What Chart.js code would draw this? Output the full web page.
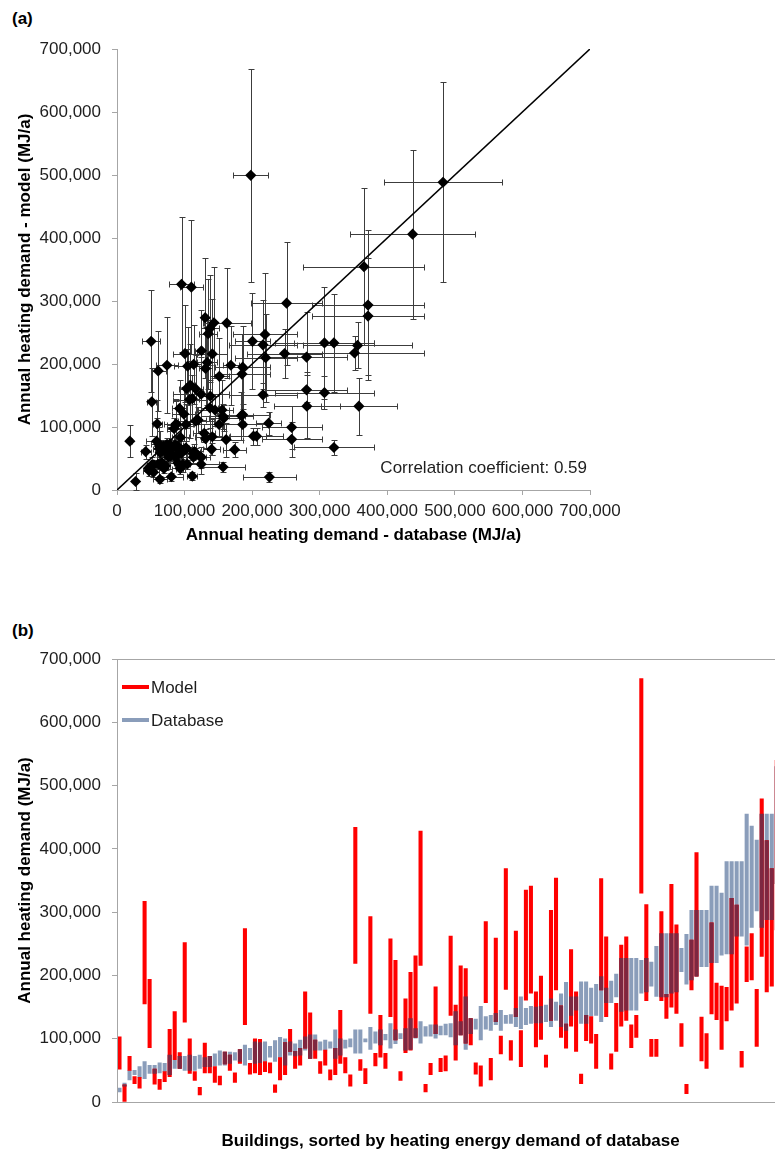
<!DOCTYPE html>
<html>
<head>
<meta charset="utf-8">
<title>Annual heating demand</title>
<script src="https://cdn.jsdelivr.net/npm/chart.js@4.4.0/dist/chart.umd.min.js"></script>
<style>
  body { margin: 0; width: 775px; height: 1155px; overflow: hidden; background: #fff; }
  .panel { position: absolute; left: 0; }
  #panelA { top: 0; width: 775px; height: 560px; }
  #panelB { top: 600px; width: 775px; height: 555px; overflow: hidden; }
  #panelB .inner { width: 900px; height: 555px; position: relative; }
  .tag { position: absolute; left: 12px; font: bold 17px "Liberation Sans", Arial, sans-serif; color: #000; }
</style>
</head>
<body>
<div class="tag" style="top:9px">(a)</div>
<div class="tag" style="top:621px">(b)</div>
<div class="panel" id="panelA"><canvas id="chartA"></canvas></div>
<div class="panel" id="panelB"><div class="inner"><canvas id="chartB"></canvas></div></div>
<script>
// Ranges per building in 1,000 MJ/a, buildings sorted by database demand
const dbLow = [16, 25, 35, 43, 39, 37, 45, 45, 46, 48, 43, 53, 53, 50, 50, 50, 53, 56, 56, 57,
  58, 58, 61, 66, 64, 58, 67, 61, 62, 64, 71, 64, 70, 58, 74, 73, 74, 82, 69, 82,
  82, 82, 85, 69, 74, 85, 87, 77, 77, 95, 83, 93, 90, 98, 85, 92, 100, 82, 83, 101,
  93, 104, 104, 101, 106, 106, 103, 90, 106, 83, 108, 115, 98, 115, 113, 122, 113, 124, 124, 119,
  116, 122, 124, 125, 125, 127, 119, 129, 119, 113, 137, 145, 124, 124, 136, 137, 127, 157, 157, 166,
  143, 145, 145, 145, 172, 174, 183, 167, 166, 166, 172, 174, 206, 186, 193, 199, 214, 214, 220, 220,
  232, 234, 234, 262, 262, 248, 276, 302, 276, 288, 288, 345, 395];
const dbHigh = [22, 30, 50, 50, 56, 64, 58, 58, 62, 61, 74, 66, 72, 72, 74, 72, 74, 70, 72, 76,
  81, 79, 79, 78, 83, 90, 85, 95, 94, 95, 88, 97, 102, 100, 95, 92, 98, 103, 106, 106,
  95, 98, 95, 114, 100, 98, 100, 114, 114, 100, 118, 111, 114, 107, 124, 114, 108, 116, 132, 116,
  127, 119, 122, 122, 120, 123, 124, 143, 127, 166, 132, 131, 151, 135, 137, 140, 145, 137, 138, 148,
  166, 148, 151, 150, 151, 153, 163, 158, 171, 189, 166, 166, 190, 190, 180, 186, 198, 180, 191, 202,
  227, 227, 227, 227, 224, 227, 221, 246, 266, 266, 266, 266, 243, 265, 303, 303, 303, 303, 341, 341,
  330, 380, 380, 380, 380, 455, 436, 414, 455, 455, 455, 530, 570];
const modelLow = [52, 0, 50, 29, 22, 155, 86, 28, 20, 32, 40, 67, 53, 126, 45, 34, 11, 46, 46, 31,
  27, 60, 50, 31, 61, 122, 44, 46, 43, 48, 46, 15, 35, 43, 80, 53, 58, 85, 69, 69,
  45, 58, 35, 43, 61, 46, 25, 219, 50, 29, 140, 57, 71, 53, 135, 98, 34, 78, 82, 102,
  216, 16, 43, 108, 48, 49, 137, 66, 106, 93, 90, 44, 25, 157, 35, 127, 76, 178, 66, 135,
  56, 161, 172, 87, 99, 55, 129, 177, 102, 85, 120, 80, 29, 97, 93, 53, 177, 135, 52, 80,
  120, 129, 86, 102, 330, 160, 72, 72, 160, 132, 150, 140, 88, 13, 177, 199, 65, 53, 139, 130,
  83, 128, 145, 156, 55, 190, 193, 88, 230, 174, 183, 272, 330];
const modelHigh = [103, 27, 72, 40, 39, 317, 194, 52, 36, 48, 115, 143, 78, 252, 100, 48, 23, 93, 72, 56,
  41, 79, 74, 46, 83, 274, 61, 100, 99, 64, 62, 27, 70, 94, 115, 80, 85, 174, 141, 98,
  64, 82, 51, 85, 145, 70, 43, 434, 67, 53, 293, 77, 137, 77, 258, 224, 48, 163, 205, 231,
  428, 28, 61, 182, 69, 73, 262, 153, 215, 211, 132, 62, 57, 285, 69, 259, 104, 369, 97, 270,
  113, 335, 341, 174, 199, 74, 303, 354, 152, 123, 241, 174, 44, 137, 135, 107, 353, 261, 76, 156,
  248, 261, 122, 137, 669, 312, 99, 99, 301, 170, 344, 280, 124, 28, 256, 394, 134, 108, 283, 188,
  183, 181, 322, 311, 80, 245, 266, 178, 479, 413, 369, 540, 647];
const buildings = dbLow.map((v, i) => i + 1);
const diagonal = [0, 700000];
const correlation = '0.59';
const K = 1000;

const red = '#ff0000';
const blueGrey = '#8a9dba';
const overlapColor = '#7d2741';
const axisGrey = '#a6a6a6';
const textColor = '#1e1e1e';

Chart.defaults.font.family = '"Liberation Sans", Arial, sans-serif';
Chart.defaults.font.size = 17;
Chart.defaults.color = textColor;
Chart.defaults.animation = false;

const mid = (lo, hi, i) => (lo[i] + hi[i]) / 2 * K;
const fmt = v => Number(v).toLocaleString('en-US');
const titleFont = { weight: 'bold', size: 17 };

// ---------- (a) model vs database ----------
const errorBars = {
  id: 'errorBars',
  beforeDatasetsDraw(chart) {
    const { ctx, scales: { x, y } } = chart;
    const cap = 3;
    ctx.save();
    ctx.strokeStyle = '#3c3c3c';
    ctx.lineWidth = 1;
    ctx.beginPath();
    dbLow.forEach((v, i) => {
      const px = Math.round(x.getPixelForValue(mid(dbLow, dbHigh, i))) + 0.5;
      const py = Math.round(y.getPixelForValue(mid(modelLow, modelHigh, i))) + 0.5;
      const x0 = Math.round(x.getPixelForValue(dbLow[i] * K)) + 0.5;
      const x1 = Math.round(x.getPixelForValue(dbHigh[i] * K)) + 0.5;
      const y0 = Math.round(y.getPixelForValue(modelLow[i] * K)) + 0.5;
      const y1 = Math.round(y.getPixelForValue(modelHigh[i] * K)) + 0.5;
      ctx.moveTo(x0, py); ctx.lineTo(x1, py);
      ctx.moveTo(x0, py - cap); ctx.lineTo(x0, py + cap);
      ctx.moveTo(x1, py - cap); ctx.lineTo(x1, py + cap);
      ctx.moveTo(px, y0); ctx.lineTo(px, y1);
      ctx.moveTo(px - cap, y0); ctx.lineTo(px + cap, y0);
      ctx.moveTo(px - cap, y1); ctx.lineTo(px + cap, y1);
    });
    ctx.stroke();
    ctx.restore();
  },
  afterDraw(chart) {
    const { ctx, chartArea } = chart;
    ctx.save();
    ctx.font = '17px "Liberation Sans", Arial, sans-serif';
    ctx.fillStyle = textColor;
    ctx.textAlign = 'right';
    ctx.textBaseline = 'middle';
    ctx.fillText('Correlation coefficient: ' + correlation, chartArea.right - 3, chartArea.bottom - 22);
    ctx.restore();
  }
};

new Chart(document.getElementById('chartA'), {
  type: 'scatter',
  data: {
    datasets: [
      {
        label: 'Buildings',
        data: dbLow.map((v, i) => ({ x: mid(dbLow, dbHigh, i), y: mid(modelLow, modelHigh, i) })),
        pointStyle: 'rectRot',
        pointRadius: 5.6,
        backgroundColor: '#000',
        borderColor: '#000',
        borderWidth: 0
      },
      {
        type: 'line',
        label: 'x = y',
        data: diagonal.map(v => ({ x: v, y: v })),
        borderColor: '#000',
        borderWidth: 1.6,
        pointRadius: 0
      }
    ]
  },
  options: {
    responsive: true,
    maintainAspectRatio: false,
    layout: { padding: { left: 0, top: 49, right: 185, bottom: 0 } },
    plugins: { legend: { display: false }, tooltip: { enabled: false } },
    scales: {
      x: {
        type: 'linear', min: 0, max: 700000,
        afterFit: s => { s.height = 70; },
        ticks: { stepSize: 100000, autoSkip: false, maxRotation: 0, padding: 6, callback: fmt },
        grid: { drawOnChartArea: false, tickLength: 5, color: axisGrey },
        border: { color: axisGrey },
        title: { display: true, text: 'Annual heating demand - database (MJ/a)', font: titleFont, color: '#000', padding: { top: 0, bottom: 14 } }
      },
      y: {
        type: 'linear', min: 0, max: 700000,
        afterFit: s => { s.width = 117; },
        ticks: { stepSize: 100000, padding: 11, callback: fmt },
        grid: { drawOnChartArea: false, tickLength: 5, color: axisGrey },
        border: { color: axisGrey },
        title: { display: true, text: 'Annual heating demand - model (MJ/a)', font: titleFont, color: '#000', padding: { top: 15, bottom: 0 } }
      }
    }
  },
  plugins: [errorBars]
});

// ---------- (b) ranges per building ----------
const frameAndLegend = {
  id: 'frameAndLegend',
  afterDraw(chart) {
    const { ctx, chartArea: a } = chart;
    ctx.save();
    ctx.strokeStyle = axisGrey;
    ctx.lineWidth = 1;
    ctx.strokeRect(Math.round(a.left) + 0.5, Math.round(a.top) + 0.5, Math.round(a.right - a.left), Math.round(a.bottom - a.top));
    ctx.font = '17px "Liberation Sans", Arial, sans-serif';
    ctx.textBaseline = 'middle';
    ctx.lineWidth = 4;
    chart.data.datasets.filter(d => d.showInLegend).forEach((d, i) => {
      const y = a.top + 28 + i * 33;
      ctx.strokeStyle = d.backgroundColor;
      ctx.beginPath();
      ctx.moveTo(a.left + 5, y);
      ctx.lineTo(a.left + 32, y);
      ctx.stroke();
      ctx.fillStyle = textColor;
      ctx.fillText(d.label, a.left + 34, y + 1);
    });
    ctx.restore();
  }
};

const overlap = dbLow.map((v, i) => {
  const lo = Math.max(dbLow[i], modelLow[i]);
  const hi = Math.min(dbHigh[i], modelHigh[i]);
  return hi > lo ? [lo * K, hi * K] : null;
});

new Chart(document.getElementById('chartB'), {
  type: 'bar',
  data: {
    labels: buildings,
    datasets: [
      {
        label: 'Overlap',
        data: overlap,
        backgroundColor: overlapColor,
        barThickness: 3.4,
        grouped: false
      },
      {
        label: 'Model',
        showInLegend: true,
        data: modelLow.map((v, i) => [v * K, modelHigh[i] * K]),
        backgroundColor: red,
        barThickness: 3.4,
        grouped: false
      },
      {
        label: 'Database',
        showInLegend: true,
        data: dbLow.map((v, i) => [v * K, dbHigh[i] * K]),
        backgroundColor: blueGrey,
        barThickness: 3.4,
        grouped: false
      }
    ]
  },
  options: {
    responsive: true,
    maintainAspectRatio: false,
    layout: { padding: { left: 0, top: 59, right: 115.7, bottom: 0 } },
    plugins: { legend: { display: false }, tooltip: { enabled: false } },
    scales: {
      x: {
        afterFit: s => { s.height = 53; },
        ticks: { display: false },
        grid: { display: false },
        border: { color: axisGrey },
        title: { display: true, text: 'Buildings, sorted by heating energy demand of database', font: titleFont, color: '#000', padding: { top: 0, bottom: 3 } }
      },
      y: {
        min: 0, max: 700000,
        afterFit: s => { s.width = 117; },
        ticks: { stepSize: 100000, padding: 11, callback: fmt },
        grid: { drawOnChartArea: false, tickLength: 5, color: axisGrey },
        border: { color: axisGrey },
        title: { display: true, text: 'Annual heating demand (MJ/a)', font: titleFont, color: '#000', padding: { top: 15, bottom: 0 } }
      }
    }
  },
  plugins: [frameAndLegend]
});
</script>
</body>
</html>
